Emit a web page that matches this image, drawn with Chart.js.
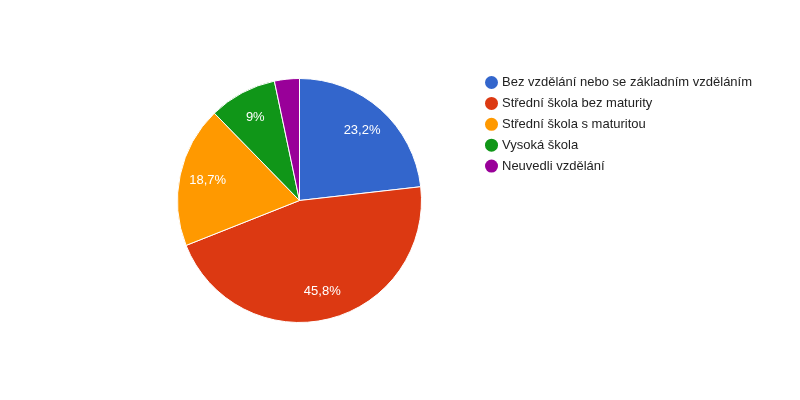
<!DOCTYPE html>
<html>
<head>
<meta charset="utf-8">
<script src="https://cdn.jsdelivr.net/npm/chart.js@4"></script>
<style>
  html, body { margin: 0; padding: 0; background: #fff; }
  #wrap { width: 800px; height: 400px; }
</style>
</head>
<body>
<div id="wrap"><canvas id="vzdelaniChart" width="800" height="400"></canvas></div>
<script>
const labels = [
  "Bez vzdělání nebo se základním vzděláním",
  "Střední škola bez maturity",
  "Střední škola s maturitou",
  "Vysoká škola",
  "Neuvedli vzdělání"
];
const podily = [23.2, 45.8, 18.7, 9, 3.3];
const barvy = ["#3366cc", "#dc3912", "#ff9900", "#109618", "#990099"];

const FONT = "Arial, 'Liberation Sans', sans-serif";

// popisky v kruhu (procenta)
const popiskyPlugin = {
  id: "popisky",
  afterDatasetsDraw(chart) {
    const c = chart.ctx;
    const meta = chart.getDatasetMeta(0);
    c.save();
    c.font = "13px " + FONT;
    c.fillStyle = "#ffffff";
    c.textAlign = "center";
    c.textBaseline = "middle";
    meta.data.forEach((arc, i) => {
      const v = podily[i];
      if (v < 5) return;
      const p = arc.getProps(["x", "y", "startAngle", "endAngle", "outerRadius"], true);
      const mid = (p.startAngle + p.endAngle) / 2;
      const r = p.outerRadius * 0.77;
      c.fillText(String(v).replace(".", ",") + "%", p.x + Math.cos(mid) * r, p.y + Math.sin(mid) * r);
    });
    c.restore();
  }
};

// legenda vpravo
const legendaPlugin = {
  id: "legenda",
  afterDraw(chart) {
    const c = chart.ctx;
    c.save();
    c.font = "13px " + FONT;
    c.textBaseline = "middle";
    c.textAlign = "left";
    labels.forEach((t, i) => {
      const y = 82.5 + i * 20.9;
      c.beginPath();
      c.arc(491.5, y, 6.5, 0, Math.PI * 2);
      c.fillStyle = barvy[i];
      c.fill();
      c.fillStyle = "#222222";
      c.fillText(t, 502, y);
    });
    c.restore();
  }
};

new Chart(document.getElementById("vzdelaniChart"), {
  type: "pie",
  data: {
    labels: labels,
    datasets: [{
      data: podily,
      backgroundColor: barvy,
      borderColor: "#ffffff",
      borderWidth: 1,
      hoverOffset: 0
    }]
  },
  options: {
    responsive: false,
    animation: false,
    layout: { padding: { left: 177, right: 378, top: 78, bottom: 77 } },
    plugins: {
      legend: { display: false },
      tooltip: { enabled: false }
    }
  },
  plugins: [popiskyPlugin, legendaPlugin]
});
</script>
</body>
</html>
